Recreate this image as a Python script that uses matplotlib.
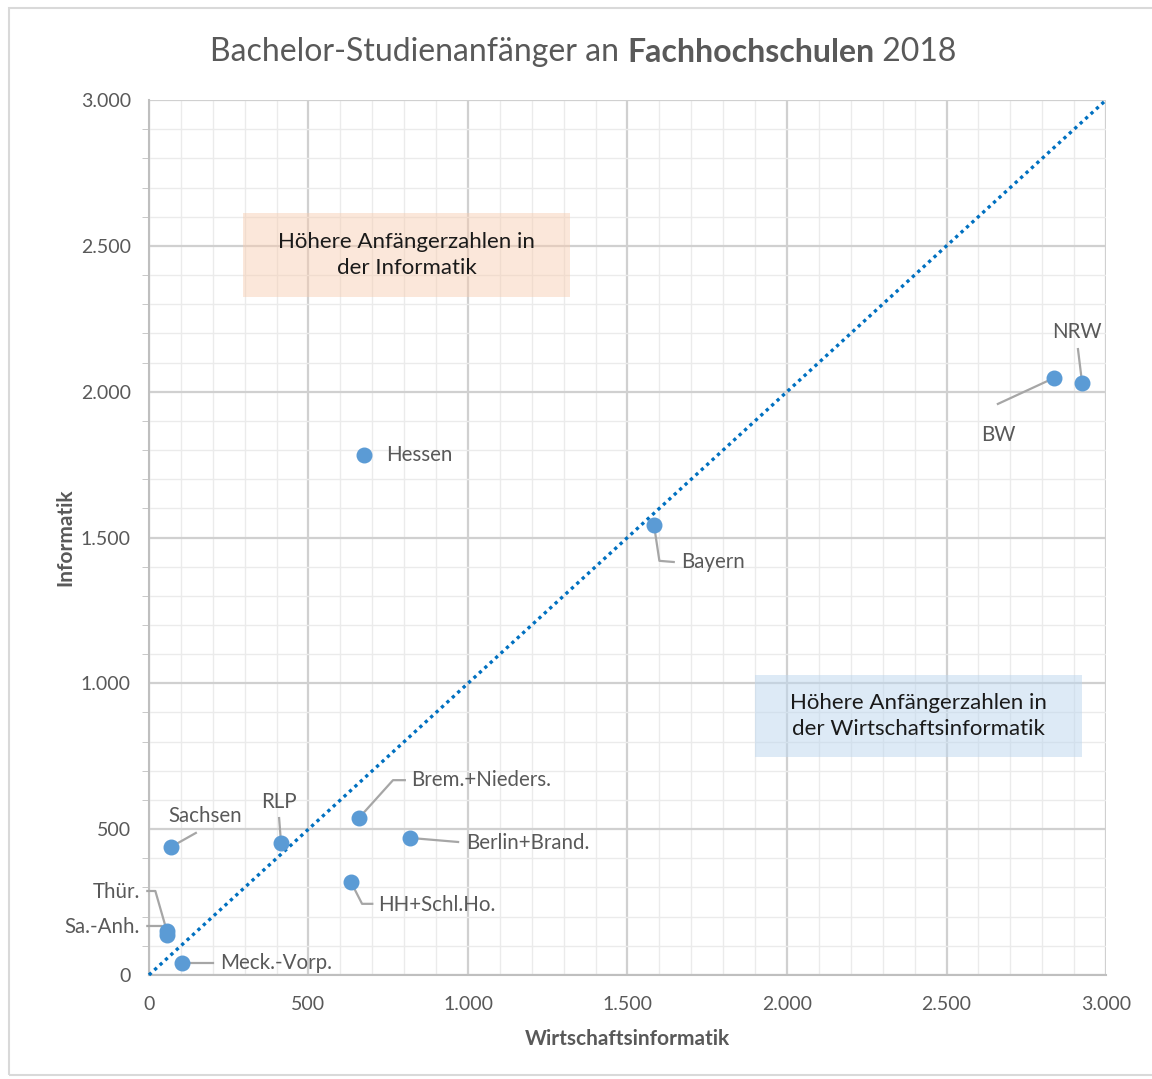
import matplotlib
matplotlib.use("Agg")
import matplotlib.pyplot as plt
from matplotlib.ticker import MultipleLocator, FuncFormatter
from matplotlib.patches import Rectangle

plt.rcParams["font.family"] = ["Lato", "DejaVu Sans"]

# Bachelor-Studienanfaenger 2018 an Fachhochschulen
laender = ["Hessen", "Bayern", "BW", "NRW", "Sachsen", "RLP", "Brem.+Nieders.",
           "Berlin+Brand.", "HH+Schl.Ho.", "Thür.", "Sa.-Anh.", "Meck.-Vorp."]
wirtschaftsinformatik = [674, 1583, 2837, 2925, 69, 414, 658, 818, 633, 56, 56, 103]
informatik = [1783, 1543, 2047, 2030, 439, 453, 538, 470, 319, 151, 137, 41]

# label placement: text pos, alignment, leader line points (data units)
label_pos = {
    "Hessen": ((743, 1783), "left", []),
    "Bayern": ((1668, 1416), "left", [(1600, 1420), (1645, 1416)]),
    "BW": ((2661, 1851), "center", [(2661, 1958)]),
    "NRW": ((2909, 2204), "center", [(2912, 2146)]),
    "Sachsen": ((176, 545), "center", [(147, 487)]),
    "RLP": ((408, 593), "center", [(408, 538)]),
    "Brem.+Nieders.": ((821, 668), "left", [(765, 668), (802, 668)]),
    "Berlin+Brand.": ((994, 452), "left", [(969, 456)]),
    "HH+Schl.Ho.": ((718, 240), "left", [(668, 244), (700, 244)]),
    "Thür.": ((-28, 285), "right", [(20, 288), (-5, 288)]),
    "Sa.-Anh.": ((-28, 165), "right", [(40, 168), (-5, 168)]),
    "Meck.-Vorp.": ((223, 41), "left", [(200, 41)]),
}

fig = plt.figure(figsize=(11.52, 10.79), dpi=100)
ax = fig.add_axes([0.1293, 0.0964, 0.8308, 0.8109])

fig.patches.append(Rectangle((9 / 1152, 4 / 1079), 1.1, 1 - 12 / 1079, transform=fig.transFigure,
                             fill=False, edgecolor="#D9D9D9", linewidth=1.5))

ax.set_xlim(0, 3000)
ax.set_ylim(0, 3000)
ax.xaxis.set_major_locator(MultipleLocator(500))
ax.yaxis.set_major_locator(MultipleLocator(500))
ax.xaxis.set_minor_locator(MultipleLocator(100))
ax.yaxis.set_minor_locator(MultipleLocator(100))
fmt = FuncFormatter(lambda v, p: f"{int(v):,}".replace(",", "."))
ax.xaxis.set_major_formatter(fmt)
ax.yaxis.set_major_formatter(fmt)
ax.grid(which="major", color="#D0D0D0", linewidth=1.6)
ax.grid(which="minor", color="#EBEBEB", linewidth=1.0)
ax.set_axisbelow(True)
for s in ["top", "right"]:
    ax.spines[s].set_visible(False)
for s in ["left", "bottom"]:
    ax.spines[s].set_color("#BFBFBF")
    ax.spines[s].set_linewidth(1.5)
ax.tick_params(which="major", length=0, labelsize=14, labelcolor="#595959")
ax.tick_params(axis="x", which="major", pad=15)
ax.tick_params(axis="y", which="major", pad=13)
ax.tick_params(axis="x", which="minor", length=0)
ax.tick_params(axis="y", which="minor", length=5, color="#BFBFBF", direction="out")

ax.set_xlabel("Wirtschaftsinformatik", fontsize=15, fontweight="bold", color="#595959", labelpad=12)
ax.set_ylabel("Informatik", fontsize=15, fontweight="bold", color="#595959", labelpad=4)

# Hintergrundboxen
ax.add_patch(Rectangle((295, 2324), 1025, 288, facecolor="#F8CBAD", alpha=0.45, edgecolor="none", zorder=1))
ax.text(807, 2468, "Höhere Anfängerzahlen in\nder Informatik", ha="center", va="center",
        fontsize=16, color="#1a1a1a", linespacing=1.4, zorder=2)
ax.add_patch(Rectangle((1900, 747), 1025, 281, facecolor="#BDD7EE", alpha=0.5, edgecolor="none", zorder=1))
ax.text(2412, 887, "Höhere Anfängerzahlen in\nder Wirtschaftsinformatik", ha="center", va="center",
        fontsize=16, color="#1a1a1a", linespacing=1.4, zorder=2)

# Diagonale
ax.plot([0, 3000], [0, 3000], linestyle=(0, (1, 1.2)), color="#0070C0", linewidth=2.4, zorder=3, clip_on=False)

for name, x, y in zip(laender, wirtschaftsinformatik, informatik):
    (tx, ty), ha, leader = label_pos[name]
    if leader:
        xs = [x] + [p[0] for p in leader]
        ys = [y] + [p[1] for p in leader]
        ax.plot(xs, ys, color="#A6A6A6", linewidth=1.6, zorder=4, clip_on=False)
    ax.text(tx, ty, name, ha=ha, va="center", fontsize=14.8, color="#595959", zorder=6, clip_on=False)

ax.scatter(wirtschaftsinformatik, informatik, s=110, color="#5B9BD5", edgecolor="#5B9BD5",
           zorder=5, clip_on=False)

# Titel mit fettem Mittelteil
parts = [("Bachelor-Studienanfänger an ", "normal"), ("Fachhochschulen", "bold"), (" 2018", "normal")]
fig.canvas.draw()
r = fig.canvas.get_renderer()
texts = []
for t, w in parts:
    tt = fig.text(0, 1 - 52 / 1079, t, fontsize=23, fontweight=w, color="#595959", va="center", ha="left")
    texts.append(tt)
widths = [tt.get_window_extent(r).width for tt in texts]
x0 = 583 - sum(widths) / 2
for tt, wd in zip(texts, widths):
    tt.set_x(x0 / 1152)
    x0 += wd

fig.savefig("out.png", dpi=100)
